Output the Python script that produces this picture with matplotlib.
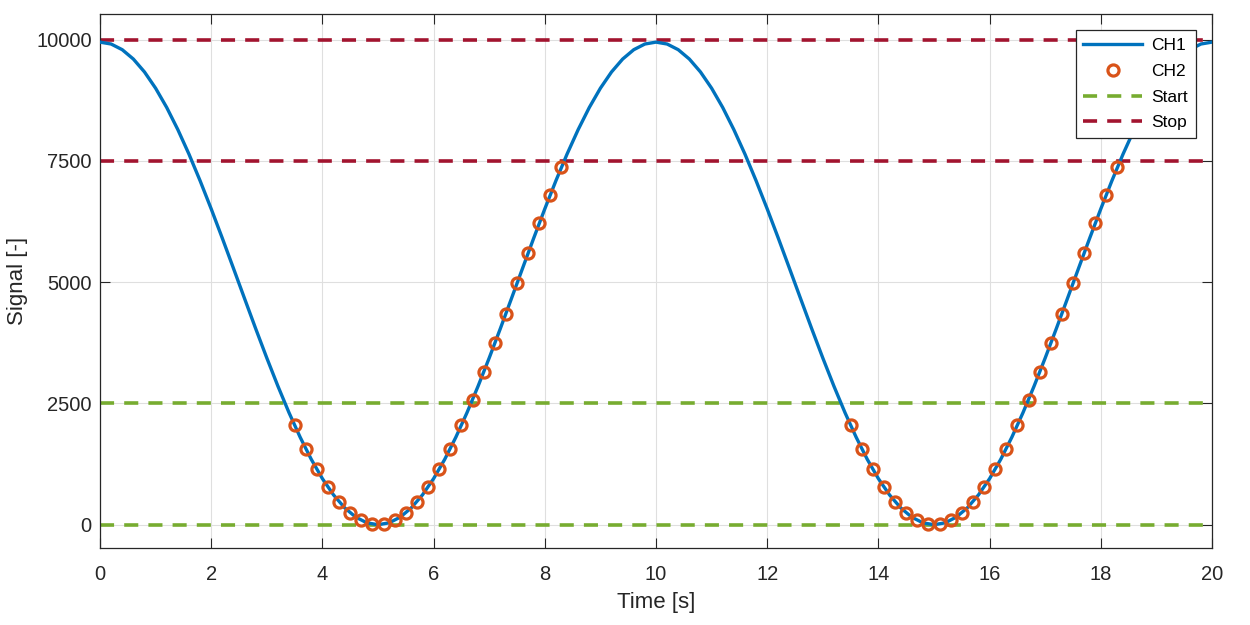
import numpy as np
import matplotlib.pyplot as plt

plt.rcParams['font.family'] = ['Liberation Sans', 'DejaVu Sans']

# CH1 sampled every 0.2 s from 0 to 20 s
t_ch1 = np.round(np.linspace(0, 20, 101), 1)
ch1 = [9950, 9911, 9794, 9601, 9335, 9000, 8602, 8146, 7641, 7093,
       6512, 5907, 5287, 4663, 4043, 3438, 2857, 2309, 1804, 1348,
       950, 615, 349, 156, 39, 0, 39, 156, 349, 615,
       950, 1348, 1804, 2309, 2857, 3438, 4043, 4663, 5287, 5907,
       6512, 7093, 7641, 8146, 8602, 9000, 9335, 9601, 9794, 9911,
       9950, 9911, 9794, 9601, 9335, 9000, 8602, 8146, 7641, 7093,
       6512, 5907, 5287, 4663, 4043, 3438, 2857, 2309, 1804, 1348,
       950, 615, 349, 156, 39, 0, 39, 156, 349, 615,
       950, 1348, 1804, 2309, 2857, 3438, 4043, 4663, 5287, 5907,
       6512, 7093, 7641, 8146, 8602, 9000, 9335, 9601, 9794, 9911,
       9950]

# CH2: samples between the start and stop triggers
t_ch2 = [3.5, 3.7, 3.9, 4.1, 4.3, 4.5, 4.7, 4.9, 5.1, 5.3, 5.5, 5.7, 5.9,
         6.1, 6.3, 6.5, 6.7, 6.9, 7.1, 7.3, 7.5, 7.7, 7.9, 8.1, 8.3,
         13.5, 13.7, 13.9, 14.1, 14.3, 14.5, 14.7, 14.9, 15.1, 15.3, 15.5,
         15.7, 15.9, 16.1, 16.3, 16.5, 16.7, 16.9, 17.1, 17.3, 17.5, 17.7,
         17.9, 18.1, 18.3]
ch2 = [2051, 1569, 1141, 774, 474, 244, 89, 10, 10, 89, 244, 474, 774,
       1141, 1569, 2051, 2578, 3143, 3738, 4351, 4975, 5599, 6212, 6807, 7372,
       2051, 1569, 1141, 774, 474, 244, 89, 10, 10, 89, 244, 474, 774,
       1141, 1569, 2051, 2578, 3143, 3738, 4351, 4975, 5599, 6212, 6807, 7372]

start_levels = [0, 2500]
stop_levels = [7500, 10000]

fig = plt.figure(figsize=(12.5, 6.25), dpi=100)
ax = fig.add_axes([0.08, 0.1232, 0.8896, 0.8544])

dash = (0, (3.9, 2.8))
ax.plot(t_ch1, ch1, color="#0072BD", lw=2.4, label="CH1", zorder=3)
ax.plot(t_ch2, ch2, ls="none", marker="o", ms=8, mfc="none", mec="#D95319",
        mew=2.3, label="CH2", zorder=4)
for i, lv in enumerate(start_levels):
    ax.axhline(lv, color="#77AC30", lw=2.6, ls=dash, zorder=2,
               label="Start" if i == 0 else None)
for i, lv in enumerate(stop_levels):
    ax.axhline(lv, color="#A2142F", lw=2.6, ls=dash, zorder=2,
               label="Stop" if i == 0 else None)

ax.set_xlim(0, 20)
ax.set_ylim(-480, 10530)
ax.set_xticks(range(0, 21, 2))
ax.set_yticks([0, 2500, 5000, 7500, 10000])
ax.tick_params(direction="in", length=7, width=0.8, top=True, right=True,
               labelsize=14.5, colors="#262626")
ax.tick_params(axis="x", pad=12)
ax.tick_params(axis="y", pad=6)
ax.grid(True, color="#DFDFDF", lw=0.8)
ax.set_axisbelow(True)
for s in ax.spines.values():
    s.set_color("#262626")
    s.set_linewidth(0.9)

ax.set_xlabel("Time [s]", fontsize=16, color="#262626", labelpad=6)
ax.set_ylabel("Signal [-]", fontsize=16, color="#262626", labelpad=6)

leg = ax.legend(loc="upper right", fontsize=12.5, handlelength=3.4,
                fancybox=False, framealpha=1, edgecolor="#262626",
                borderaxespad=0.95, borderpad=0.45, labelspacing=0.6,
                handletextpad=0.5)
leg.get_frame().set_linewidth(0.9)

fig.savefig("out.png", dpi=100)
